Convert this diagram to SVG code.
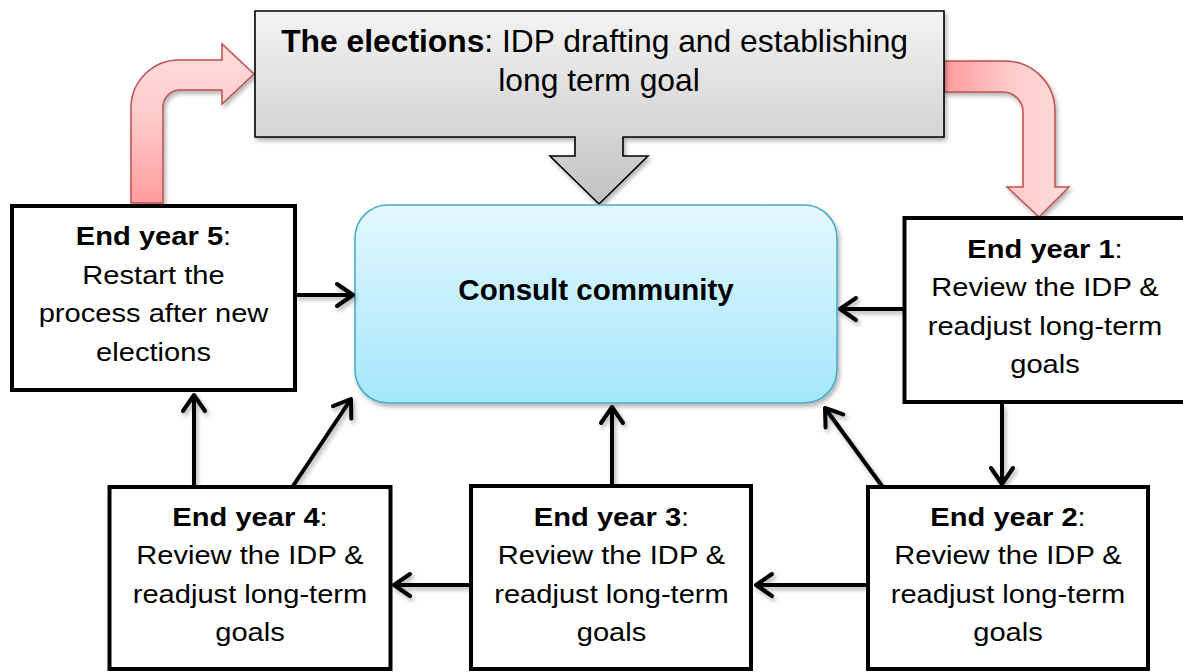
<svg xmlns="http://www.w3.org/2000/svg" width="1183" height="672" viewBox="0 0 1183 672">
  <defs>
    <linearGradient id="grayFill" x1="0" y1="0" x2="0" y2="1">
      <stop offset="0" stop-color="#f3f3f3"/>
      <stop offset="0.6" stop-color="#d6d6d6"/>
      <stop offset="1" stop-color="#c2c2c2"/>
    </linearGradient>
    <linearGradient id="cyanFill" x1="0" y1="0" x2="0" y2="1">
      <stop offset="0" stop-color="#e3f8fe"/>
      <stop offset="1" stop-color="#a4e6fb"/>
    </linearGradient>
    <linearGradient id="redUp" x1="0" y1="1" x2="0" y2="0">
      <stop offset="0" stop-color="#ff9c9c"/>
      <stop offset="0.55" stop-color="#ffcccc"/>
      <stop offset="1" stop-color="#ffdcdc"/>
    </linearGradient>
    <linearGradient id="redRight" x1="0" y1="0" x2="1" y2="0">
      <stop offset="0" stop-color="#ff9c9c"/>
      <stop offset="0.55" stop-color="#ffcccc"/>
      <stop offset="1" stop-color="#ffdcdc"/>
    </linearGradient>
    <filter id="shadow" x="-10%" y="-10%" width="130%" height="130%">
      <feDropShadow dx="2" dy="3" stdDeviation="2.2" flood-color="#000" flood-opacity="0.3"/>
    </filter>
    <marker id="chevron" viewBox="-20 -14 24 28" markerWidth="24" markerHeight="28" refX="0" refY="0" orient="auto" markerUnits="userSpaceOnUse">
      <path d="M-16,-11 L0,0 L-16,11" fill="none" stroke="#000" stroke-width="4" stroke-linecap="round" stroke-linejoin="round"/>
    </marker>
    <style>
      .box { fill: #fff; stroke: #000; stroke-width: 4; }
      .lbl { font-family: "Liberation Sans", Arial, sans-serif; font-size: 26px; fill: #000; text-anchor: middle; }
      .b { font-weight: bold; }
      .conn { fill: none; stroke: #000; stroke-width: 4; marker-end: url(#chevron); }
      .red { stroke: #c0504d; stroke-width: 1.5; stroke-linejoin: miter; }
    </style>
  </defs>

  <!-- curved red cycle arrows -->
  <g id="cycle-arrows" filter="url(#shadow)">
    <path class="red" fill="url(#redUp)" d="M131,203 V108 A48,48 0 0 1 179,60 H222 V44 L254,74 L222,104 V90 H180 A17,17 0 0 0 163,107 V203 Z"/>
    <path class="red" fill="url(#redRight)" d="M944,61 H1005 A50,50 0 0 1 1055,111 V187 H1069 L1039,217 L1007,187 H1023 V112 A20,20 0 0 0 1003,92 H944 Z"/>
  </g>

  <!-- elections callout with downward arrow -->
  <g id="elections">
    <path d="M255,11 H944 V137 H623 V156 H648 L599,204 L550,156 H575 V137 H255 Z" fill="url(#grayFill)" stroke="#000" stroke-width="1.6" filter="url(#shadow)"/>
    <text font-family="Liberation Sans, Arial, sans-serif" font-size="31.8" text-anchor="middle" fill="#000">
      <tspan x="599" y="52"><tspan font-weight="bold">The elections</tspan>: IDP drafting and establishing</tspan>
      <tspan x="599" y="91">long term goal</tspan>
    </text>
  </g>

  <!-- central node -->
  <g id="consult">
    <rect x="355" y="205" width="482" height="198" rx="33" ry="33" fill="url(#cyanFill)" stroke="#4bacc6" stroke-width="1.6" filter="url(#shadow)"/>
    <text x="596" y="300" font-family="Liberation Sans, Arial, sans-serif" font-size="29.5" font-weight="bold" text-anchor="middle" fill="#000">Consult community</text>
  </g>

  <!-- connectors -->
  <g id="connectors" filter="url(#shadow)">
    <path class="conn" d="M295,295 L353,295"/>
    <path class="conn" d="M905,309 L840,309"/>
    <path class="conn" d="M1002,404 L1002,484"/>
    <path class="conn" d="M882,486 L825,408"/>
    <path class="conn" d="M866,585 L756,585"/>
    <path class="conn" d="M469,585 L394,585"/>
    <path class="conn" d="M612,485 L612,407"/>
    <path class="conn" d="M194,486 L194,395"/>
    <path class="conn" d="M293,486 L351,399"/>
  </g>

  <!-- year nodes -->
  <g id="year5">
    <rect class="box" x="12" y="206" width="283" height="184"/>
    <g transform="translate(153.5,0) scale(1.12,1)">
      <text class="lbl" x="0" y="245"><tspan class="b">End year 5</tspan>:</text>
      <text class="lbl" x="0" y="284">Restart the</text>
      <text class="lbl" x="0" y="322">process after new</text>
      <text class="lbl" x="0" y="361">elections</text>
    </g>
  </g>

  <g id="year1">
    <rect class="box" x="904.5" y="218" width="282" height="184"/>
    <g transform="translate(1045,0) scale(1.12,1)">
      <text class="lbl" x="0" y="258"><tspan class="b">End year 1</tspan>:</text>
      <text class="lbl" x="0" y="296.5">Review the IDP &amp;</text>
      <text class="lbl" x="0" y="335">readjust long-term</text>
      <text class="lbl" x="0" y="373.5">goals</text>
    </g>
  </g>

  <g id="year2">
    <rect class="box" x="868" y="487" width="280" height="182"/>
    <g transform="translate(1008,0) scale(1.12,1)">
      <text class="lbl" x="0" y="526"><tspan class="b">End year 2</tspan>:</text>
      <text class="lbl" x="0" y="564.5">Review the IDP &amp;</text>
      <text class="lbl" x="0" y="603">readjust long-term</text>
      <text class="lbl" x="0" y="641.5">goals</text>
    </g>
  </g>

  <g id="year3">
    <rect class="box" x="471" y="486" width="280" height="183"/>
    <g transform="translate(611.5,0) scale(1.12,1)">
      <text class="lbl" x="0" y="526"><tspan class="b">End year 3</tspan>:</text>
      <text class="lbl" x="0" y="564.5">Review the IDP &amp;</text>
      <text class="lbl" x="0" y="603">readjust long-term</text>
      <text class="lbl" x="0" y="641.5">goals</text>
    </g>
  </g>

  <g id="year4">
    <rect class="box" x="109.5" y="487" width="281" height="182"/>
    <g transform="translate(250,0) scale(1.12,1)">
      <text class="lbl" x="0" y="526"><tspan class="b">End year 4</tspan>:</text>
      <text class="lbl" x="0" y="564.5">Review the IDP &amp;</text>
      <text class="lbl" x="0" y="603">readjust long-term</text>
      <text class="lbl" x="0" y="641.5">goals</text>
    </g>
  </g>
</svg>
